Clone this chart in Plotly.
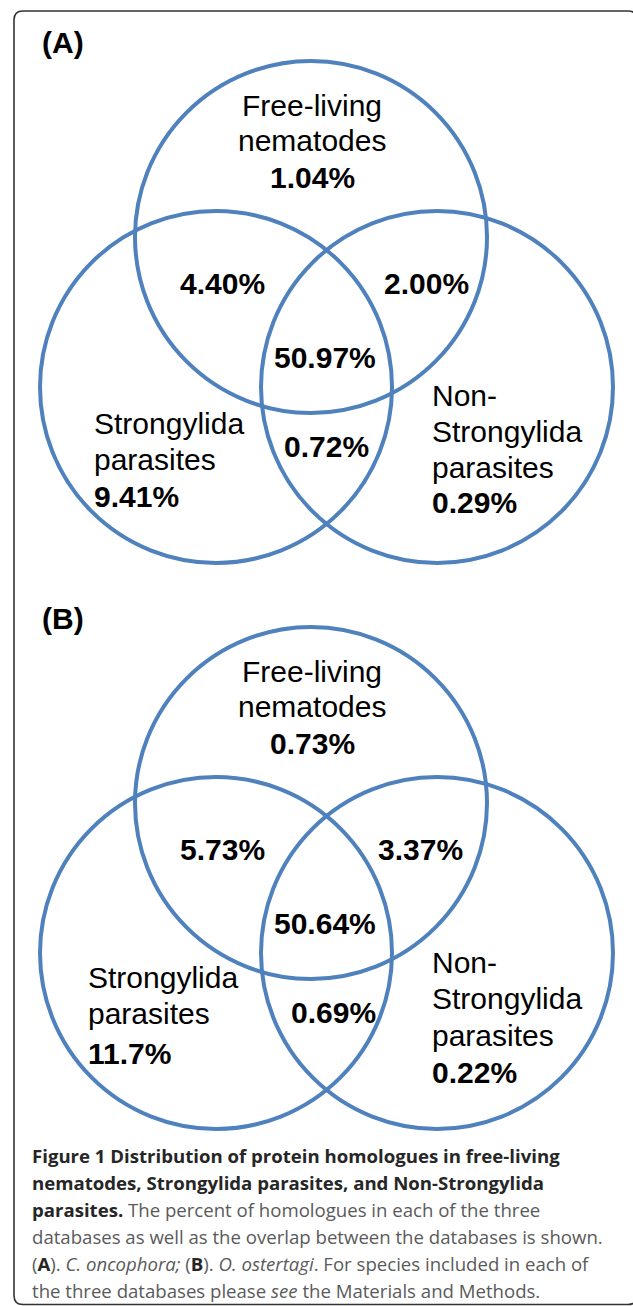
import plotly.graph_objects as go

# ---------------- data ----------------
panel_labels = ["(A)", "(B)"]
set_free_lines = ["Free-living", "nematodes"]
set_str_lines = ["Strongylida", "parasites"]
set_non_lines = ["Non-", "Strongylida", "parasites"]
only_free = ["1.04%", "0.73%"]
only_str = ["9.41%", "11.7%"]
only_non = ["0.29%", "0.22%"]
free_str = ["4.40%", "5.73%"]
free_non = ["2.00%", "3.37%"]
str_non = ["0.72%", "0.69%"]
all_three = ["50.97%", "50.64%"]

caption_lines = [
    "<b>Figure 1 Distribution of protein homologues in free-living</b>",
    "<b>nematodes, Strongylida parasites, and Non-Strongylida</b>",
    "<b>parasites.</b> The percent of homologues in each of the three",
    "databases as well as the overlap between the databases is shown.",
    "(<b>A</b>). <i>C. oncophora;</i> (<b>B</b>). <i>O. ostertagi</i>. For species included in each of",
    "the three databases please <i>see</i> the Materials and Methods.",
]

# ---------------- layout geometry ----------------
W, H = 633, 1306
BLUE = "#4F81BD"
VFONT = "Liberation Sans, Arial, sans-serif"
CFONT = "Open Sans, sans-serif"
FS = 30

panel_dy = [0, 566]
label_y = [42, 618]
# circle geometry for panel A (centre x, centre y, radius)
circ = {"top": (311, 237, 176), "left": (216, 387, 176), "right": (437, 387, 176)}

# per panel text placement (x, y) -- panel B tweaks
pos = [
    dict(free=(312, [105, 140, 177]), fs=(222, 283), fn=(426, 283), all=(325, 357),
         sn=(326, 446), strx=92, stry=[423, 459, 496], nonx=430, nony=[395, 431, 467, 502]),
    dict(free=(312, [671, 706, 743]), fs=(222, 849), fn=(420, 849), all=(325, 923),
         sn=(333, 1012), strx=86, stry=[977, 1013, 1053], nonx=430, nony=[962, 998, 1035, 1072]),
]

fig = go.Figure()
fig.add_trace(go.Scatter(x=[0, W], y=[0, H], mode="markers",
                         marker=dict(opacity=0), hoverinfo="skip", showlegend=False))

shapes = []
annotations = []

def txt(x, y, s, bold=False, anchor="center", size=FS):
    annotations.append(dict(
        x=x, y=y, xref="x", yref="y", text=(f"<b>{s}</b>" if bold else s),
        showarrow=False, xanchor=anchor, yanchor="middle",
        font=dict(family=VFONT, size=size, color="#000000"),
    ))

for i in range(2):
    dy = panel_dy[i]
    for key, (cx, cy, r) in circ.items():
        shapes.append(dict(type="circle", xref="x", yref="y",
                           x0=cx - r, x1=cx + r, y0=cy + dy - r, y1=cy + dy + r,
                           line=dict(color=BLUE, width=4), fillcolor="rgba(0,0,0,0)",
                           layer="above"))
    p = pos[i]
    txt(40, label_y[i], panel_labels[i], bold=True, anchor="left")
    fx, fys = p["free"]
    for line, yy in zip(set_free_lines, fys[:2]):
        txt(fx, yy, line)
    txt(fx, fys[2], only_free[i], bold=True)
    txt(p["fs"][0], p["fs"][1], free_str[i], bold=True)
    txt(p["fn"][0], p["fn"][1], free_non[i], bold=True)
    txt(p["all"][0], p["all"][1], all_three[i], bold=True)
    txt(p["sn"][0], p["sn"][1], str_non[i], bold=True)
    for line, yy in zip(set_str_lines, p["stry"][:2]):
        txt(p["strx"], yy, line, anchor="left")
    txt(p["strx"], p["stry"][2], only_str[i], bold=True, anchor="left")
    for line, yy in zip(set_non_lines, p["nony"][:3]):
        txt(p["nonx"], yy, line, anchor="left")
    txt(p["nonx"], p["nony"][3], only_non[i], bold=True, anchor="left")

# caption
cap_y0, cap_dy = 1155, 27
for k, line in enumerate(caption_lines):
    line = line.replace("<b>", "<b><span style='color:#262626'>").replace("</b>", "</span></b>")
    annotations.append(dict(
        x=30, y=cap_y0 + k * cap_dy, xref="x", yref="y", text=line,
        showarrow=False, xanchor="left", yanchor="middle",
        font=dict(family=CFONT, size=18.6, color="#5a5a5a"),
    ))

# rounded frame
x0, y0, x1, y1, r = 14, 11, 637, 1304.5, 9
path = (f"M {x0+r},{y0} L {x1-r},{y0} Q {x1},{y0} {x1},{y0+r} L {x1},{y1-r} "
        f"Q {x1},{y1} {x1-r},{y1} L {x0+r},{y1} Q {x0},{y1} {x0},{y1-r} "
        f"L {x0},{y0+r} Q {x0},{y0} {x0+r},{y0} Z")
shapes.append(dict(type="path", path=path, xref="x", yref="y",
                   line=dict(color="#333333", width=1.6), fillcolor="rgba(0,0,0,0)"))

fig.update_layout(
    width=W, height=H, margin=dict(l=0, r=0, t=0, b=0),
    paper_bgcolor="white", plot_bgcolor="white",
    xaxis=dict(range=[0, W], visible=False, fixedrange=True),
    yaxis=dict(range=[H, 0], visible=False, fixedrange=True),
    shapes=shapes, annotations=annotations, showlegend=False,
)
fig.write_html("out.html", config={"displayModeBar": False},
               post_script="document.body.style.margin='0';document.body.style.overflow='hidden';")
